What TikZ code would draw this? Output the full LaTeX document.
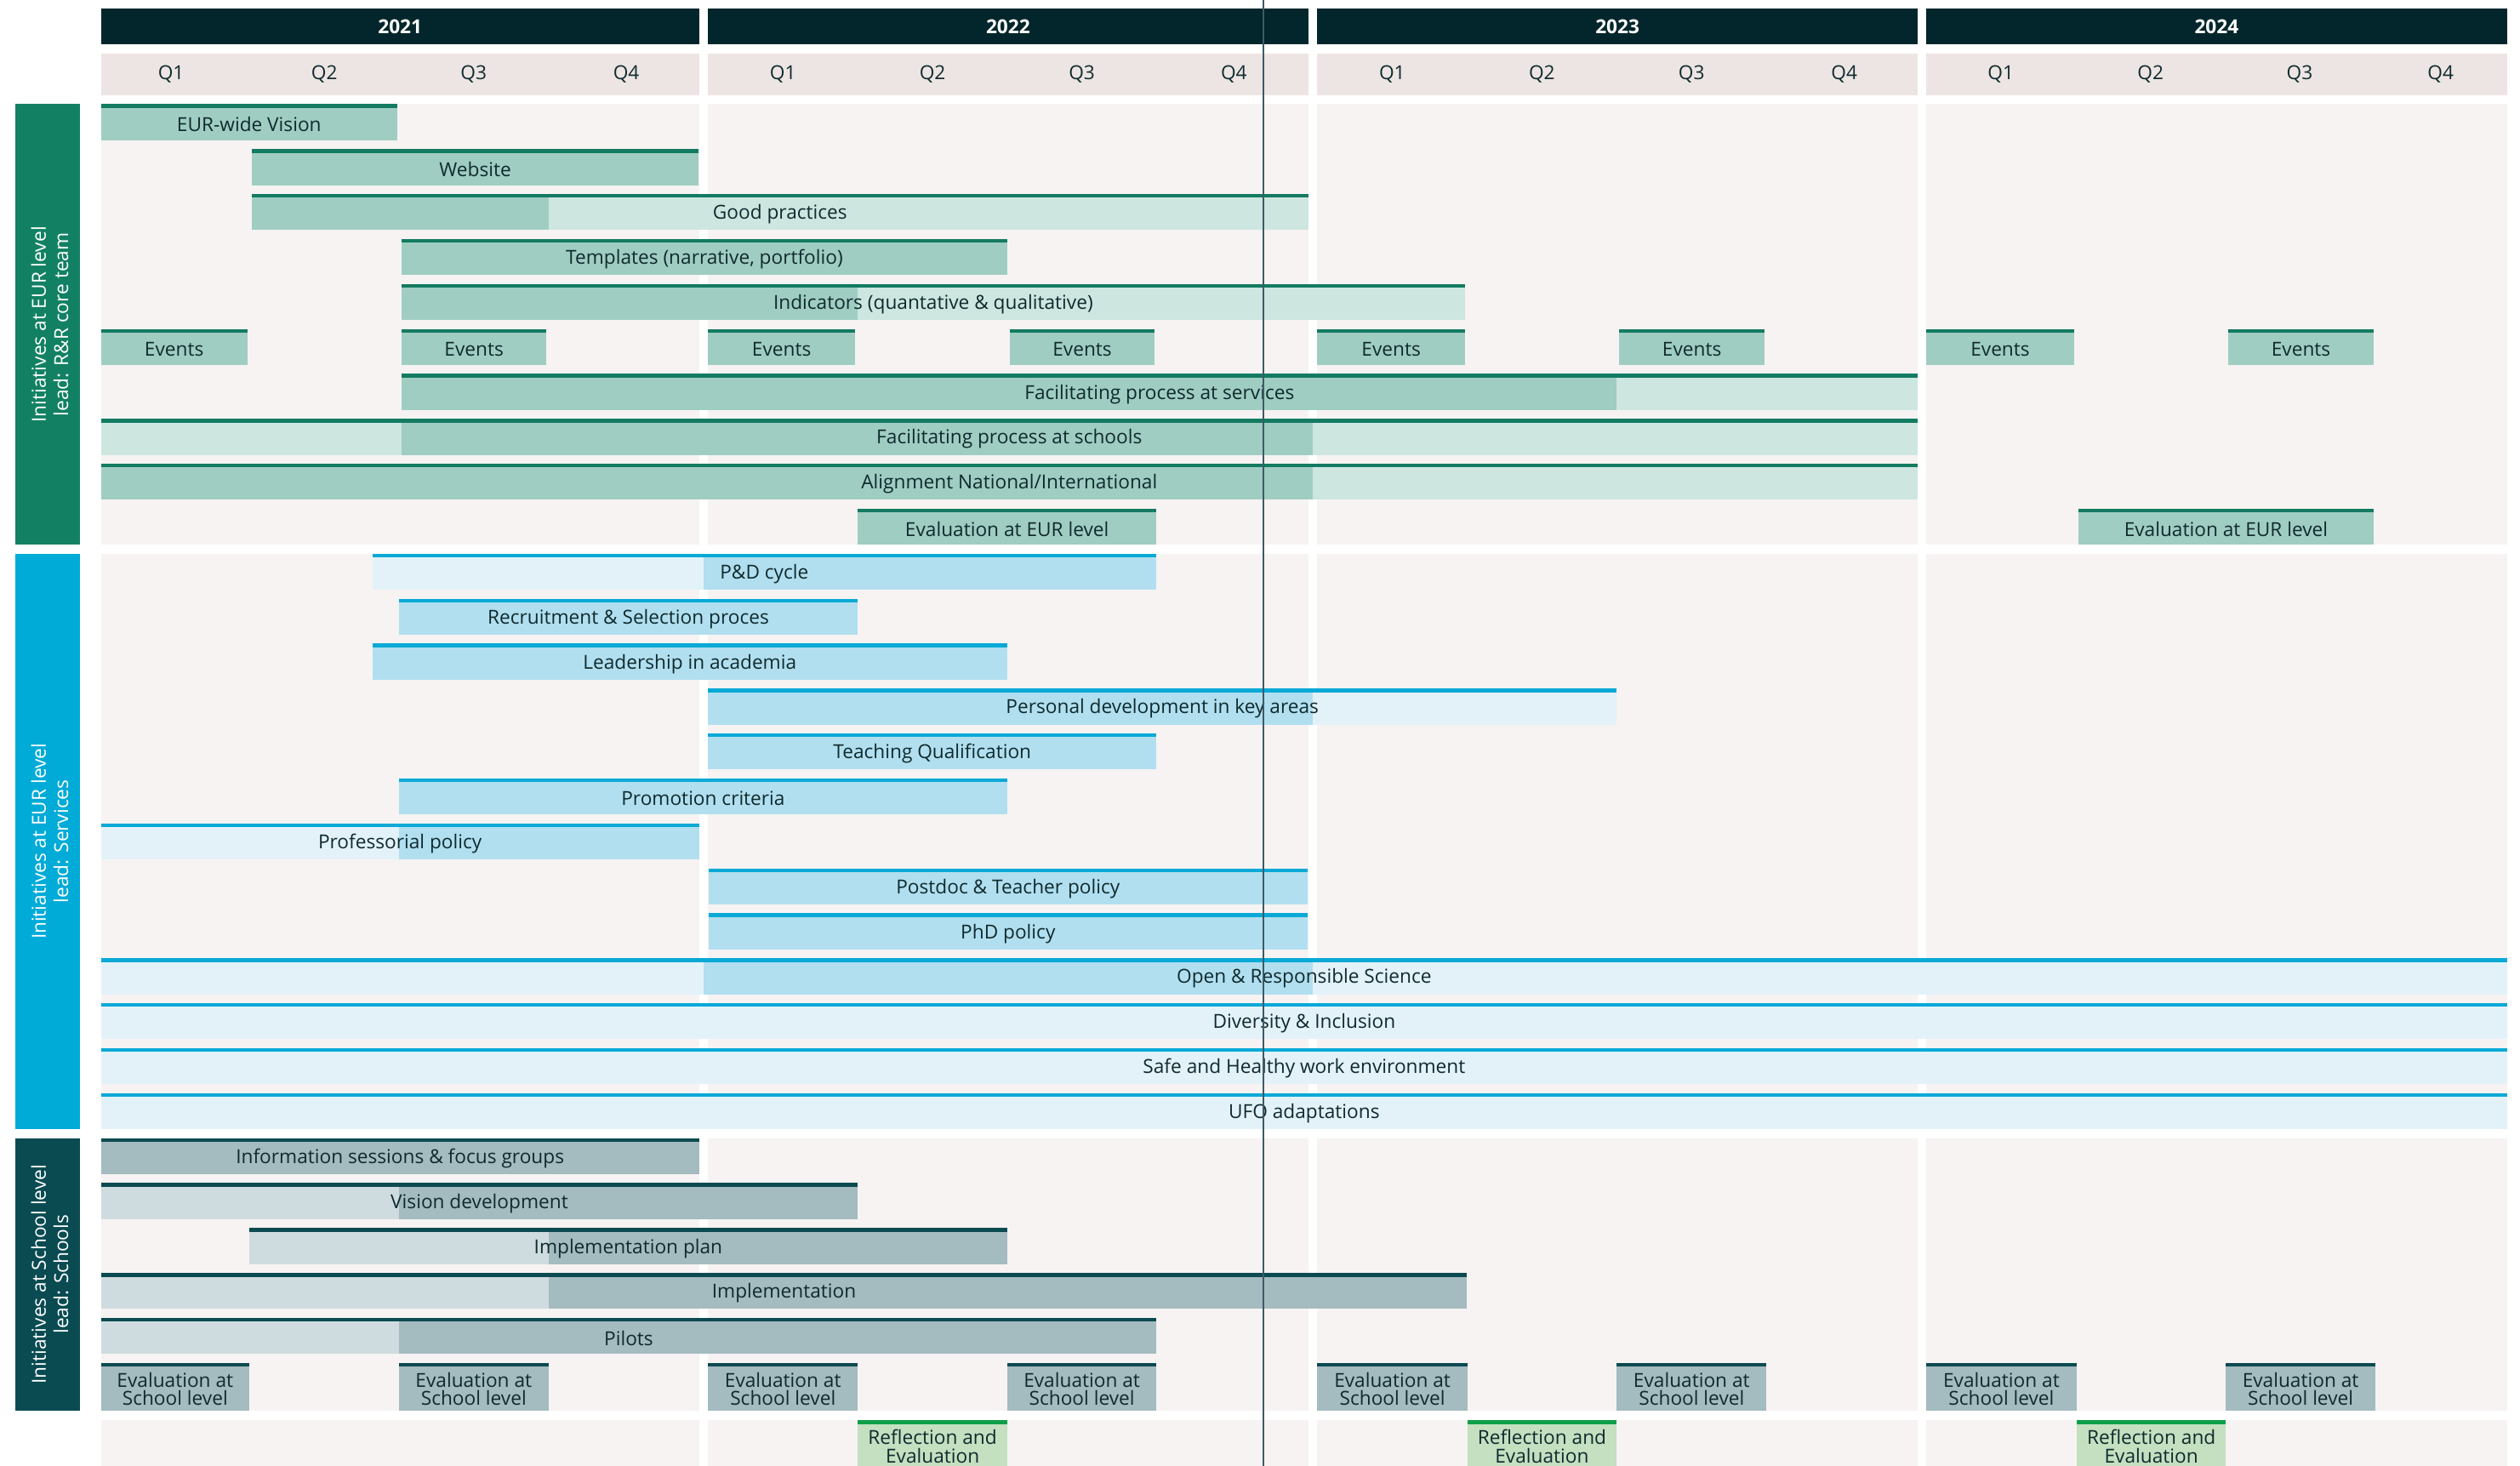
\documentclass[tikz,border=0pt]{standalone}
\usepackage{fontspec}
\setmainfont{Open Sans}
\definecolor{yearbg}{HTML}{02262B}
\definecolor{qbg}{HTML}{EDE5E3}
\definecolor{panel}{HTML}{F6F3F2}
\definecolor{gline}{HTML}{137B61}
\definecolor{gmed}{HTML}{A0CDC2}
\definecolor{glight}{HTML}{CDE6E0}
\definecolor{glabel}{HTML}{128163}
\definecolor{cline}{HTML}{0AA9D6}
\definecolor{cmed}{HTML}{B1DFEF}
\definecolor{clight}{HTML}{E3F2F9}
\definecolor{clabel}{HTML}{00ABD8}
\definecolor{tline}{HTML}{0C4A51}
\definecolor{tmed}{HTML}{A4BBBF}
\definecolor{tlight}{HTML}{CFDCDF}
\definecolor{tlabel}{HTML}{0A4B52}
\definecolor{rline}{HTML}{0E9F48}
\definecolor{rmed}{HTML}{C4E0C0}
\definecolor{txt}{HTML}{0F2A2E}
\definecolor{todayc}{HTML}{3E5A66}
\tikzset{
  bartxt/.style={inner sep=0pt, text=txt, font=\fontsize{12}{11.5}\selectfont, align=center},
  yeartxt/.style={inner sep=0pt, text=white, font=\bfseries\fontsize{12}{12}\selectfont},
  qtxt/.style={inner sep=0pt, text=txt, font=\fontsize{12}{12}\selectfont},
  seclbl/.style={inner sep=0pt, rotate=90, text=white, align=center, font=\fontsize{12}{14}\selectfont},
  todayline/.style={draw=todayc, line width=0.8pt}
}
\newcommand\ry{0}
\newcommand\bh{22.4}
\newcommand\setrow[1]{\pgfmathsetmacro\ry{64.8+27.97*#1}}
\newcommand\barseg[3]{\fill[#1] (#2,\ry) rectangle (#3,\ry+\bh);}
\newcommand\barline[3]{\fill[#1] (#2,\ry) rectangle (#3,\ry+2.3);}
\newcommand\barlabel[4]{\node[bartxt] (#1) at ({(#2+#3)/2},\ry+12.6) {#4};}
\newcommand\barlabelii[4]{\node[bartxt] (#1) at ({(#2+#3)/2},\ry+16.2) {#4};}
\begin{document}
\begin{tikzpicture}[x=1pt,y=-1pt]
\useasboundingbox (0,0) rectangle (1568,912);
\fill[white] (0,0) rectangle (1568,912);
% ---------- year headers and quarter rows ----------
\foreach \xa/\xb/\yr in {62.9/434.9/2021,440.6/813.9/2022,819.7/1193.1/2023,1198.4/1560/2024}{
  \fill[yearbg] (\xa,5.3) rectangle (\xb,27.7);
  \node[yeartxt] (y\yr) at ({(\xa+\xb)/2},16.5) {\yr};
  \fill[qbg] (\xa,33.2) rectangle (\xb,59.1);
  \foreach \ya/\yb in {64.8/338.9,344.5/702.5,708.1/877.6,883.6/912}{
    \fill[panel] (\xa,\ya) rectangle (\xb,\yb);
  }
}
\foreach \xa/\xb/\q/\yr in {62.9/150/Q1/a,155.5/248.2/Q2/a,248.2/341.3/Q3/a,341.3/438/Q4/a,
  440.6/533.7/Q1/b,533.7/626.8/Q2/b,626.8/719.5/Q3/b,719.5/816/Q4/b,
  819.7/912.8/Q1/c,912.8/1006/Q2/c,1006/1099/Q3/c,1099/1196/Q4/c,
  1198.4/1291.5/Q1/d,1291.5/1384.6/Q2/d,1384.6/1477.2/Q3/d,1477.2/1560/Q4/d}{
  \node[qtxt] (\q\yr) at ({(\xa+\xb)/2},46.2) {\q};
}
% ---------- section labels ----------
\fill[glabel] (9.5,64.8) rectangle (50,338.9);
\node[seclbl] (sec1) at (31,201.85) {Initiatives at EUR level\\lead: R\&R core team};
\fill[clabel] (9.5,344.5) rectangle (50,702.5);
\node[seclbl] (sec2) at (31,523.5) {Initiatives at EUR level\\lead: Services};
\fill[tlabel] (9.5,708.1) rectangle (50,877.6);
\node[seclbl] (sec3) at (31,792.85) {Initiatives at School level\\lead: Schools};
% ---------- section 1 ----------
\setrow{0}
\barseg{gmed}{62.9}{247.1}\barline{gline}{62.9}{247.1}\barlabel{vision}{62.9}{247.1}{EUR-wide Vision}
\setrow{1}
\barseg{gmed}{156.8}{434.6}\barline{gline}{156.8}{434.6}\barlabel{website}{156.8}{434.6}{Website}
\setrow{2}
\barseg{gmed}{156.8}{341.6}\barseg{glight}{341.6}{813.9}\barline{gline}{156.8}{813.9}\barlabel{goodpr}{156.8}{813.9}{Good practices}
\setrow{3}
\barseg{gmed}{249.8}{626.8}\barline{gline}{249.8}{626.8}\barlabel{templ}{249.8}{626.8}{Templates (narrative, portfolio)}
\setrow{4}
\barseg{gmed}{249.8}{533.7}\barseg{glight}{533.7}{911.5}\barline{gline}{249.8}{911.5}\barlabel{indic}{249.8}{911.5}{Indicators (quantative \& qualitative)}
\setrow{5}
\foreach \xa/\xb/\n in {62.9/153.8/1,249.8/340.1/2,440.6/532/3,628.5/718.3/4,819.7/911.5/5,1007.4/1098.1/6,1198.4/1290.7/7,1386.6/1476.8/8}{
  \barseg{gmed}{\xa}{\xb}\barline{gline}{\xa}{\xb}\barlabel{ev\n}{\xa}{\xb}{Events}
}
\setrow{6}
\barseg{gmed}{249.8}{1005.9}\barseg{glight}{1005.9}{1193.1}\barline{gline}{249.8}{1193.1}\barlabel{facserv}{249.8}{1193.1}{Facilitating process at services}
\setrow{7}
\barseg{glight}{62.9}{249.8}\barseg{gmed}{249.8}{817}\barseg{glight}{817}{1193.1}\barline{gline}{62.9}{1193.1}\barlabel{facsch}{62.9}{1193.1}{Facilitating process at schools}
\setrow{8}
\barseg{gmed}{62.9}{817}\barseg{glight}{817}{1193.1}\barline{gline}{62.9}{1193.1}\barlabel{align}{62.9}{1193.1}{Alignment National/International}
\setrow{9}
\barseg{gmed}{533.7}{719.5}\barline{gline}{533.7}{719.5}\barlabel{evaleur1}{533.7}{719.5}{Evaluation at EUR level}
\barseg{gmed}{1293.3}{1476.8}\barline{gline}{1293.3}{1476.8}\barlabel{evaleur2}{1293.3}{1476.8}{Evaluation at EUR level}
% ---------- section 2 ----------
\setrow{10}
\barseg{clight}{231.6}{437.7}\barseg{cmed}{437.7}{719.5}\barline{cline}{231.6}{719.5}\barlabel{pd}{231.6}{719.5}{P\&D cycle}
\setrow{11}
\barseg{cmed}{248.2}{533.7}\barline{cline}{248.2}{533.7}\barlabel{recr}{248.2}{533.7}{Recruitment \& Selection proces}
\setrow{12}
\barseg{cmed}{231.6}{626.8}\barline{cline}{231.6}{626.8}\barlabel{lead}{231.6}{626.8}{Leadership in academia}
\setrow{13}
\barseg{cmed}{440.6}{817}\barseg{clight}{817}{1005.9}\barline{cline}{440.6}{1005.9}\barlabel{persdev}{440.6}{1005.9}{Personal development in key areas}
\setrow{14}
\barseg{cmed}{440.6}{719.5}\barline{cline}{440.6}{719.5}\barlabel{teach}{440.6}{719.5}{Teaching Qualification}
\setrow{15}
\barseg{cmed}{248.2}{626.8}\barline{cline}{248.2}{626.8}\barlabel{promo}{248.2}{626.8}{Promotion criteria}
\setrow{16}
\barseg{clight}{62.9}{248.2}\barseg{cmed}{248.2}{434.9}\barline{cline}{62.9}{434.9}\barlabel{prof}{62.9}{434.9}{Professorial policy}
\setrow{17}
\barseg{cmed}{440.8}{813.6}\barline{cline}{440.8}{813.6}\barlabel{postdoc}{440.8}{813.6}{Postdoc \& Teacher policy}
\setrow{18}
\barseg{cmed}{440.8}{813.6}\barline{cline}{440.8}{813.6}\barlabel{phd}{440.8}{813.6}{PhD policy}
\setrow{19}
\barseg{clight}{62.9}{437.7}\barseg{cmed}{437.7}{816.8}\barseg{clight}{816.8}{1560}\barline{cline}{62.9}{1560}\barlabel{open}{62.9}{1560}{Open \& Responsible Science}
\setrow{20}
\barseg{clight}{62.9}{1560}\barline{cline}{62.9}{1560}\barlabel{divers}{62.9}{1560}{Diversity \& Inclusion}
\setrow{21}
\barseg{clight}{62.9}{1560}\barline{cline}{62.9}{1560}\barlabel{safe}{62.9}{1560}{Safe and Healthy work environment}
\setrow{22}
\barseg{clight}{62.9}{1560}\barline{cline}{62.9}{1560}\barlabel{ufo}{62.9}{1560}{UFO adaptations}
% ---------- section 3 ----------
\setrow{23}
\barseg{tmed}{62.9}{434.9}\barline{tline}{62.9}{434.9}\barlabel{info}{62.9}{434.9}{Information sessions \& focus groups}
\setrow{24}
\barseg{tlight}{62.9}{248.2}\barseg{tmed}{248.2}{533.7}\barline{tline}{62.9}{533.7}\barlabel{visdev}{62.9}{533.7}{Vision development}
\setrow{25}
\barseg{tlight}{155}{341.3}\barseg{tmed}{341.3}{626.8}\barline{tline}{155}{626.8}\barlabel{implplan}{155}{626.8}{Implementation plan}
\setrow{26}
\barseg{tlight}{62.9}{341.3}\barseg{tmed}{341.3}{912.8}\barline{tline}{62.9}{912.8}\barlabel{impl}{62.9}{912.8}{Implementation}
\setrow{27}
\barseg{tlight}{62.9}{248.2}\barseg{tmed}{248.2}{719.5}\barline{tline}{62.9}{719.5}\barlabel{pilots}{62.9}{719.5}{Pilots}
\setrow{28}
\renewcommand\bh{29.5}
\foreach \xa/\xb/\n in {62.9/155/1,248.2/341.3/2,440.6/533.7/3,626.8/719.5/4,819.7/913/5,1005.9/1099.2/6,1198.4/1292.2/7,1385/1477.9/8}{
  \barseg{tmed}{\xa}{\xb}\barline{tline}{\xa}{\xb}\barlabelii{evsch\n}{\xa}{\xb}{Evaluation at\\School level}
}
% ---------- section 4 ----------
\renewcommand\ry{883.6}
\renewcommand\bh{28.4}
\foreach \xa/\xb/\n in {533.7/626.8/1,913/1005.9/2,1292.2/1385/3}{
  \barseg{rmed}{\xa}{\xb}\barline{rline}{\xa}{\xb}\barlabelii{refl\n}{\xa}{\xb}{Reflection and\\Evaluation}
}
% ---------- today line ----------
\coordinate (todayTop) at (786,0);
\coordinate (todayBot) at (786,912);
\draw[todayline] (todayTop) -- (todayBot);
\end{tikzpicture}
\end{document}
